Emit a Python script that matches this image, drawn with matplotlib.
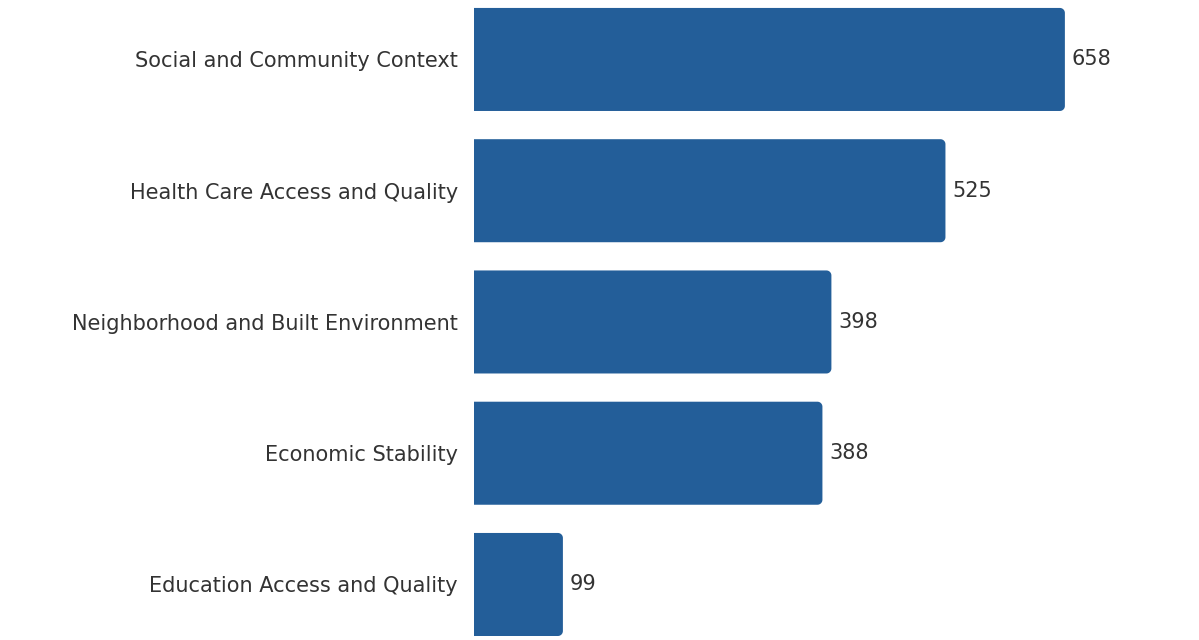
import numpy as np
import matplotlib.pyplot as plt
from matplotlib.path import Path
from matplotlib.patches import PathPatch

# Data
categories = ["Social and Community Context", "Health Care Access and Quality",
              "Neighborhood and Built Environment", "Economic Stability",
              "Education Access and Quality"]
counts = [658, 525, 398, 388, 99]

barColor = "#235e99"
textColor = "#333333"

fig = plt.figure(figsize=(11.99, 6.4), dpi=100)
ax = fig.add_axes([474/1199, 0, 1 - 474/1199, 1])

#px per unit in each direction
pxX = 0.898
pxY = 131.25
xmax = (1199 - 474) / pxX
ax.set_xlim(0, xmax)
ax.set_ylim(4.423, -0.453)

barH = 0.785
rad = 5.0
rx = rad / pxX
ry = rad / pxY

#bar outline: square left side, rounded right corners
def barPath(val, y0, h):
    th = np.linspace(0, np.pi/2, 12)
    verts = [(0, y0)]
    #top right corner (y0 is top since axis inverted)
    for t in th[::-1]:
        verts.append((val - rx + rx*np.cos(t), y0 + ry - ry*np.sin(t)))
    for t in th:
        verts.append((val - rx + rx*np.cos(t), y0 + h - ry + ry*np.sin(t)))
    verts.append((0, y0 + h))
    verts.append((0, y0))
    codes = [Path.MOVETO] + [Path.LINETO]*(len(verts) - 2) + [Path.CLOSEPOLY]
    return Path(verts, codes)

y = np.arange(len(categories))
for yi, val in zip(y, counts):
    ax.add_patch(PathPatch(barPath(val, yi - barH/2, barH), fc=barColor, ec="none"))
    ax.text(val + 7/pxX, yi, str(val), va="center", ha="left",
            fontsize=15, color=textColor, family="DejaVu Sans")

ax.set_yticks(y)
ax.set_yticklabels(categories, fontsize=15, color=textColor, family="DejaVu Sans")
ax.tick_params(axis="y", length=0, pad=11.5)
ax.set_xticks([])
for s in ax.spines.values():
    s.set_visible(False)

fig.savefig("out.png", dpi=100)
